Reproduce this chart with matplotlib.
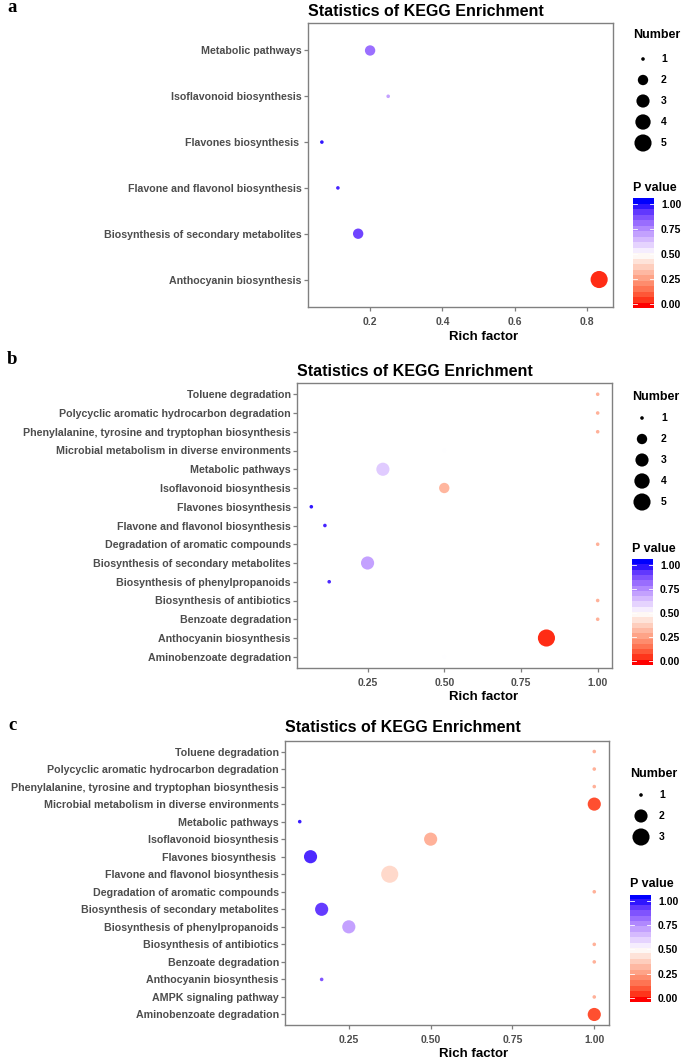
import numpy as np
import matplotlib
matplotlib.use('Agg')
import matplotlib.pyplot as plt
from matplotlib.colors import ListedColormap, Normalize
from matplotlib.ticker import FormatStrFormatter

plt.rcParams['font.family'] = ['Liberation Sans', 'DejaVu Sans']
plt.rcParams['font.weight'] = 'bold'

# ==========================================
# DATA (terms listed top -> bottom)
# ==========================================
a_terms = ["Metabolic pathways", "Isoflavonoid biosynthesis", "Flavones biosynthesis ",
           "Flavone and flavonol biosynthesis", "Biosynthesis of secondary metabolites",
           "Anthocyanin biosynthesis"]
a_rich = [0.2, 0.25, 0.0667, 0.111, 0.167, 0.833]
a_count = [2, 1, 1, 1, 2, 5]
a_p = [0.81, 0.70, 0.98, 0.96, 0.90, 0.03]

b_terms = ["Toluene degradation", "Polycyclic aromatic hydrocarbon degradation",
           "Phenylalanine, tyrosine and tryptophan biosynthesis",
           "Microbial metabolism in diverse environments", "Metabolic pathways",
           "Isoflavonoid biosynthesis", "Flavones biosynthesis", "Flavone and flavonol biosynthesis",
           "Degradation of aromatic compounds", "Biosynthesis of secondary metabolites",
           "Biosynthesis of phenylpropanoids", "Biosynthesis of antibiotics", "Benzoate degradation",
           "Anthocyanin biosynthesis", "Aminobenzoate degradation"]
b_rich = [1.0, 1.0, 1.0, 0.5, 0.3, 0.5, 0.0667, 0.111, 1.0, 0.25, 0.125, 1.0, 1.0, 0.833, 0.5]
b_count = [1, 1, 1, 1, 3, 2, 1, 1, 1, 3, 1, 1, 1, 5, 1]
b_p = [0.30, 0.30, 0.30, 0.50, 0.61, 0.31, 0.98, 0.96, 0.30, 0.70, 0.95, 0.30, 0.30, 0.03, 0.50]

c_terms = ["Toluene degradation", "Polycyclic aromatic hydrocarbon degradation",
           "Phenylalanine, tyrosine and tryptophan biosynthesis",
           "Microbial metabolism in diverse environments", "Metabolic pathways",
           "Isoflavonoid biosynthesis", "Flavones biosynthesis ", "Flavone and flavonol biosynthesis",
           "Degradation of aromatic compounds", "Biosynthesis of secondary metabolites",
           "Biosynthesis of phenylpropanoids", "Biosynthesis of antibiotics", "Benzoate degradation",
           "Anthocyanin biosynthesis", "AMPK signaling pathway", "Aminobenzoate degradation"]
c_rich = [1.0, 1.0, 1.0, 1.0, 0.1, 0.5, 0.133, 0.375, 1.0, 0.167, 0.25, 1.0, 1.0, 0.167, 1.0, 1.0]
c_count = [1, 1, 1, 2, 1, 2, 2, 3, 1, 2, 2, 1, 1, 1, 1, 2]
c_p = [0.30, 0.30, 0.30, 0.08, 0.97, 0.30, 0.95, 0.40, 0.30, 0.92, 0.70, 0.30, 0.30, 0.87, 0.30, 0.08]

a_xticks = [0.2, 0.4, 0.6, 0.8]
bc_xticks = [0.25, 0.50, 0.75, 1.00]
p_ticks = [0.0, 0.25, 0.5, 0.75, 1.0]

# ==========================================
# COLOUR SCALE (red - white - blue, Lab interpolation like ggplot gradient2)
# ==========================================
M = np.array([[0.4124564, 0.3575761, 0.1804375],
              [0.2126729, 0.7151522, 0.0721750],
              [0.0193339, 0.1191920, 0.9503041]])
WHITE_PT = np.array([0.95047, 1.0, 1.08883])


def to_lab(rgb):
    rgb = np.asarray(rgb, float)
    lin = np.where(rgb <= 0.04045, rgb / 12.92, ((rgb + 0.055) / 1.055) ** 2.4)
    xyz = M @ lin / WHITE_PT
    f = np.where(xyz > 0.008856, np.cbrt(xyz), 7.787 * xyz + 16 / 116)
    return np.array([116 * f[1] - 16, 500 * (f[0] - f[1]), 200 * (f[1] - f[2])])


def to_rgb(lab):
    L, a, b = lab
    fy = (L + 16) / 116
    f = np.array([fy + a / 500, fy, fy - b / 200])
    xyz = np.where(f ** 3 > 0.008856, f ** 3, (f - 16 / 116) / 7.787) * WHITE_PT
    lin = np.clip(np.linalg.inv(M) @ xyz, 0, 1)
    rgb = np.where(lin <= 0.0031308, 12.92 * lin, 1.055 * lin ** (1 / 2.4) - 0.055)
    return np.clip(rgb, 0, 1)


lab_red, lab_white, lab_blue = to_lab([1, 0, 0]), to_lab([1, 1, 1]), to_lab([0, 0, 1])
cols = []
for t in np.linspace(0, 1, 256):
    if t < 0.5:
        cols.append(to_rgb(lab_red + (lab_white - lab_red) * t / 0.5))
    else:
        cols.append(to_rgb(lab_white + (lab_blue - lab_white) * (t - 0.5) / 0.5))
cmap = ListedColormap(cols)
norm = Normalize(0, 1, clip=True)


def marker_area(n, lo, hi):
    # ggplot area scale, range 1-6, converted to matplotlib points^2
    size = 1 + 5 * np.sqrt((np.asarray(n, float) - lo) / (hi - lo))
    d_px = 0.95 * (2.845 * size + 0.945)
    return (d_px * 0.72) ** 2


# ==========================================
# FIGURE
# ==========================================
W, H = 685, 1060
fig = plt.figure(figsize=(6.85, 10.6), dpi=100)
ov = fig.add_axes([0, 0, 1, 1])
ov.set_xlim(0, W)
ov.set_ylim(H, 0)
ov.axis('off')


def px_axes(x0, y0, x1, y1):
    return fig.add_axes([x0 / W, 1 - y1 / H, (x1 - x0) / W, (y1 - y0) / H])


panels = [
    dict(letter='a', letter_xy=(7, 8), box=(308, 23, 613, 307), title_y=11, xlab_xy=(484, 337),
         terms=a_terms, rich=a_rich, count=a_count, p=a_p, xticks=a_xticks, fmt='%.1f',
         leg_x=633, num_y=35, key_y0=59, key_x=643, lab_x=661, pv_y=188, bar=(633, 198, 654, 308)),
    dict(letter='b', letter_xy=(7, 360), box=(297, 383, 612, 668), title_y=372, xlab_xy=(484, 697),
         terms=b_terms, rich=b_rich, count=b_count, p=b_p, xticks=bc_xticks, fmt='%.2f',
         leg_x=632, num_y=397, key_y0=418, key_x=642, lab_x=661, pv_y=549, bar=(632, 559, 653, 665)),
    dict(letter='c', letter_xy=(8, 725), box=(285, 741, 609, 1025), title_y=728, xlab_xy=(474, 1054),
         terms=c_terms, rich=c_rich, count=c_count, p=c_p, xticks=bc_xticks, fmt='%.2f',
         leg_x=630, num_y=774, key_y0=795, key_x=641, lab_x=659, pv_y=884, bar=(630, 895, 651, 1002)),
]

for pn in panels:
    n = len(pn['terms'])
    ypos = np.arange(n, 0, -1)
    lo, hi = min(pn['count']), max(pn['count'])
    ax = px_axes(*pn['box'])
    ax.scatter(pn['rich'], ypos, s=marker_area(pn['count'], lo, hi), c=pn['p'],
               cmap=cmap, norm=norm, edgecolors='none', zorder=3)
    rmin, rmax = min(pn['rich']), max(pn['rich'])
    pad = 0.05 * (rmax - rmin)
    ax.set_xlim(rmin - pad, rmax + pad)
    ax.set_ylim(0.4, n + 0.6)
    ax.set_yticks(ypos)
    ax.set_yticklabels(pn['terms'], fontsize=7.7, color='#4d4d4d')
    ax.set_xticks(pn['xticks'])
    ax.xaxis.set_major_formatter(FormatStrFormatter(pn['fmt']))
    ax.tick_params(axis='x', labelsize=7.5, labelcolor='#4d4d4d', length=3, width=0.9,
                   color='#7f7f7f', pad=4)
    ax.tick_params(axis='y', length=3, width=0.9, color='#7f7f7f', pad=1.5)
    for sp in ax.spines.values():
        sp.set_color('#808080')
        sp.set_linewidth(1.0)

    # texts
    ov.text(*pn['letter_xy'], pn['letter'], fontfamily=['Liberation Serif', 'DejaVu Serif'],
            fontsize=13.5, fontweight='bold', ha='left', va='center')
    ov.text(pn['box'][0], pn['title_y'], 'Statistics of KEGG Enrichment', fontsize=11.5,
            ha='left', va='center')
    ov.text(*pn['xlab_xy'], 'Rich factor', fontsize=9.5, ha='center', va='center')

    # size legend
    levels = np.arange(lo, hi + 1)
    key_ys = pn['key_y0'] + 21 * np.arange(len(levels))
    ov.text(pn['leg_x'], pn['num_y'], 'Number', fontsize=9, ha='left', va='center')
    ov.scatter(np.full(len(levels), pn['key_x']), key_ys, s=marker_area(levels, lo, hi),
               color='black', edgecolors='none')
    for lv, ky in zip(levels, key_ys):
        ov.text(pn['lab_x'], ky, str(lv), fontsize=7.5, ha='left', va='center')

    # colour bar
    ov.text(pn['leg_x'], pn['pv_y'], 'P value', fontsize=9, ha='left', va='center')
    cax = px_axes(*pn['bar'])
    vlo, vhi = -0.04, 1.06
    edges = np.linspace(vlo, vhi, 21)
    cax.imshow(((edges[:-1] + edges[1:]) / 2)[:, None], origin='lower', aspect='auto',
               extent=[0, 1, vlo, vhi], cmap=cmap, norm=norm, interpolation='nearest')
    cax.set_xlim(0, 1)
    cax.set_ylim(vlo, vhi)
    cax.set_xticks([])
    cax.yaxis.tick_right()
    cax.set_yticks(p_ticks)
    cax.set_yticklabels(['%.2f' % v for v in p_ticks], fontsize=7.5)
    cax.tick_params(axis='y', length=0, pad=5)
    for v in p_ticks:
        cax.plot([0, 0.2], [v, v], color='white', lw=0.6)
        cax.plot([0.8, 1], [v, v], color='white', lw=0.6)
    for sp in cax.spines.values():
        sp.set_visible(False)

fig.savefig('out.png', dpi=100)
